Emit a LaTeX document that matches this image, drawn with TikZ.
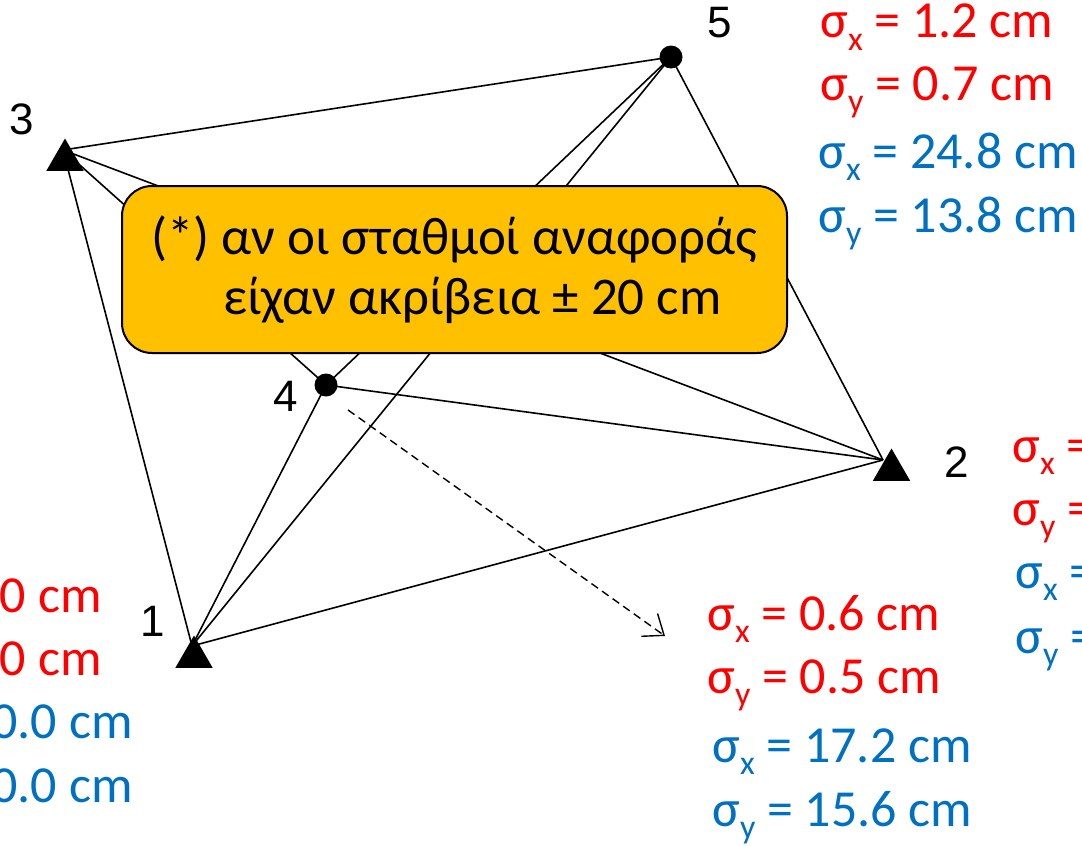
\documentclass[tikz,border=0pt]{standalone}
\usepackage{fontspec}
\setmainfont{Carlito}
\newfontfamily\labelfont{Liberation Sans}
\usetikzlibrary{arrows.meta,shapes.geometric}
\definecolor{errred}{HTML}{FF0000}
\definecolor{errblue}{HTML}{0070C0}
\definecolor{notefill}{HTML}{FFC000}
\newcommand{\sigsub}[1]{σ\raisebox{-6pt}{\fontsize{17pt}{17pt}\selectfont #1}}
\tikzset{edge/.style={draw=black,line width=.8pt},station/.style={regular polygon,regular polygon sides=3,fill=black,inner sep=0pt,minimum size=21.5pt},newpt/.style={circle,fill=black,inner sep=0pt,minimum size=11.5pt},ptlabel/.style={font=\labelfont\fontsize{22pt}{22pt}\selectfont,inner sep=0pt},redval/.style={anchor=base west,text=errred,font=\fontsize{26pt}{30pt}\selectfont,inner sep=0pt},blueval/.style={redval,text=errblue},notebox/.style={draw=black,line width=1pt,fill=notefill,rounded corners=15pt,minimum width=332.5pt,minimum height=83.5pt,align=left,font=\fontsize{26.5pt}{30pt}\selectfont}}

\begin{document}
\begin{tikzpicture}[x=.5pt,y=-.5pt]
\useasboundingbox (0,0) rectangle (1082,846);\clip (0,0) rectangle (1082,846);
% points where the lines meet
\coordinate (p1) at (192,646);\coordinate (p2) at (883,460);\coordinate (p3) at (63,150);\coordinate (p4) at (326,385);\coordinate (p5) at (671,57);
\foreach \a/\b in {1/2,1/3,1/4,1/5,2/3,2/4,2/5,3/4,3/5,4/5}{\draw[edge] (p\a)--(p\b);}
\node[station] (s1) at (194,657) {};\node[station] (s2) at (891.5,470) {};\node[station] (s3) at (65,160) {};
\node[newpt] (s4) at (p4) {};\node[newpt] (s5) at (p5) {};
\node[ptlabel] (l1) at (153,621) {1};\node[ptlabel] (l2) at (957,462) {2};\node[ptlabel] (l3) at (22,119) {3};\node[ptlabel] (l4) at (286,396) {4};\node[ptlabel] (l5) at (720,23) {5};
\coordinate (arrS) at (348,410);\coordinate (arrE) at (665,636);
\draw[line width=.7pt,dash pattern=on 4pt off 2.5pt,-{Straight Barb[length=9pt,width=14pt,line width=.7pt]}] (arrS)--(arrE);
\node[notebox] (note) at (454.5,269.5) {(*) αν οι σταθμοί αναφοράς\\\hspace*{36pt}είχαν ακρίβεια ± 20 cm};
% values at point 5
\node[redval] (v5a) at (820,38) {\sigsub{x} = 1.2 cm};\node[redval] (v5b) at (820,100) {\sigsub{y} = 0.7 cm};
\node[blueval] (v5c) at (818,168) {\sigsub{x} = 24.8 cm};\node[blueval] (v5d) at (818,232) {\sigsub{y} = 13.8 cm};
% values at point 4
\node[redval] (v4a) at (707,630) {\sigsub{x} = 0.6 cm};\node[redval] (v4b) at (707,693) {\sigsub{y} = 0.5 cm};
\node[blueval] (v4c) at (712,762) {\sigsub{x} = 17.2 cm};\node[blueval] (v4d) at (712,826) {\sigsub{y} = 15.6 cm};
% values at point 2
\node[redval] (v2a) at (1012,462) {\sigsub{x} =};\node[redval] (v2b) at (1012,525) {\sigsub{y} =};
\node[blueval] (v2c) at (1015,588) {\sigsub{x} =};\node[blueval] (v2d) at (1015,653) {\sigsub{y} =};
% values at point 1
\node[redval,anchor=base east] (v1a) at (102,612) {0 cm};\node[redval,anchor=base east] (v1b) at (102,675) {0 cm};
\node[blueval,anchor=base east] (v1c) at (133,738) {0.0 cm};\node[blueval,anchor=base east] (v1d) at (133,802) {0.0 cm};
\end{tikzpicture}
\end{document}
